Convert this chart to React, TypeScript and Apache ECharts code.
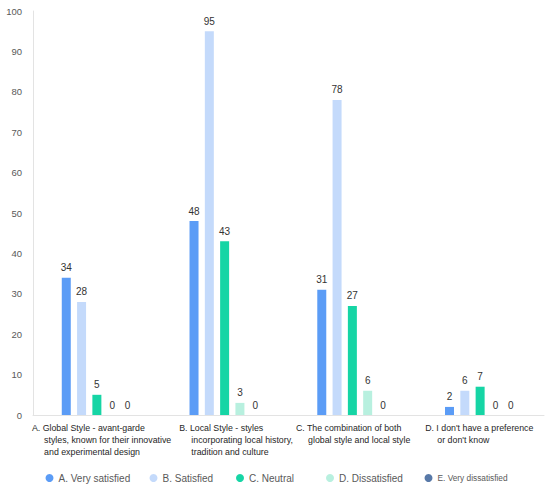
import React, { useEffect, useRef } from "react";
import * as echarts from "echarts";

const categories = [
  ["A. Global Style - avant-garde", "     styles, known for their innovative", "     and experimental design"],
  ["B. Local Style - styles", "     incorporating local history,", "     tradition and culture"],
  ["C. The combination of both", "     global style and local style"],
  ["D. I don't have a preference", "     or don't know"],
];
const labelBlockWidths = [130, 91, 113, 110];

const seriesNames = ["A. Very satisfied", "B. Satisfied", "C. Neutral", "D. Dissatisfied", "E. Very dissatisfied"];
const verySatisfied = [34, 48, 31, 2];
const satisfied = [28, 95, 78, 6];
const neutral = [5, 43, 27, 7];
const dissatisfied = [0, 3, 6, 0];
const veryDissatisfied = [0, 0, 0, 0];
const seriesValues = [verySatisfied, satisfied, neutral, dissatisfied, veryDissatisfied];
const colors = ["#5B9CF6", "#C4DAFB", "#16D5A5", "#B8F0DF", "#5879A8"];
const legendLefts = [40.5, 144.5, 231, 321, 419.5];

const yTicks = { min: 0, max: 100, interval: 10 };

export default function App() {
  const ref = useRef<HTMLDivElement>(null);
  useEffect(() => {
    if (!ref.current) return;
    const chart = echarts.init(ref.current, undefined, { renderer: "svg" });
    const rich: Record<string, any> = {};
    labelBlockWidths.forEach((w, i) => {
      rich["w" + i] = {
        width: w,
        align: "left",
        fontSize: 8.8,
        lineHeight: 12,
        color: "#262626",
        fontFamily: "Liberation Sans",
      };
    });
    chart.setOption({
      animation: false,
      backgroundColor: "#fff",
      color: colors,
      grid: { left: 33, right: 6, top: 11, bottom: 71, containLabel: false, outerBoundsMode: "none" },
      legend: seriesNames.map((name, i) => ({
        top: 466,
        left: legendLefts[i],
        icon: "circle",
        itemWidth: 8,
        itemHeight: 8,
        selectedMode: false,
        data: [name],
        textStyle: {
          fontSize: i === 4 ? 8.3 : 10,
          lineHeight: 14,
          color: "#595959",
          fontFamily: "Liberation Sans",
        },
      })),
      xAxis: {
        type: "category",
        data: categories.map((c) => c.join("\n")),
        axisLine: { show: true, lineStyle: { color: "#E3E3E3" } },
        axisTick: { show: false },
        axisLabel: {
          interval: 0,
          margin: 7,
          align: "center",
          formatter: (v: string, i: number) =>
            v
              .split("\n")
              .map((l) => "{w" + i + "|" + l + "}")
              .join("\n"),
          rich,
        },
      },
      yAxis: {
        type: "value",
        min: yTicks.min,
        max: yTicks.max,
        interval: yTicks.interval,
        axisLine: { show: true, lineStyle: { color: "#E3E3E3" } },
        axisTick: { show: false },
        splitLine: { show: false },
        axisLabel: {
          margin: 11,
          color: "#595959",
          fontSize: 9.5,
          fontFamily: "Liberation Sans",
        },
      },
      series: seriesNames.map((name, i) => ({
        name,
        type: "bar",
        data: seriesValues[i],
        barWidth: 9,
        barGap: "70%",
        label: {
          show: true,
          position: "top",
          distance: 5,
          color: "#333",
          fontSize: 10,
          fontFamily: "Liberation Sans",
        },
      })),
    });
    return () => chart.dispose();
  }, []);
  return (
    <div
      ref={ref}
      style={{ position: "fixed", left: 0, top: 0, width: 550, height: 486 }}
    />
  );
}
